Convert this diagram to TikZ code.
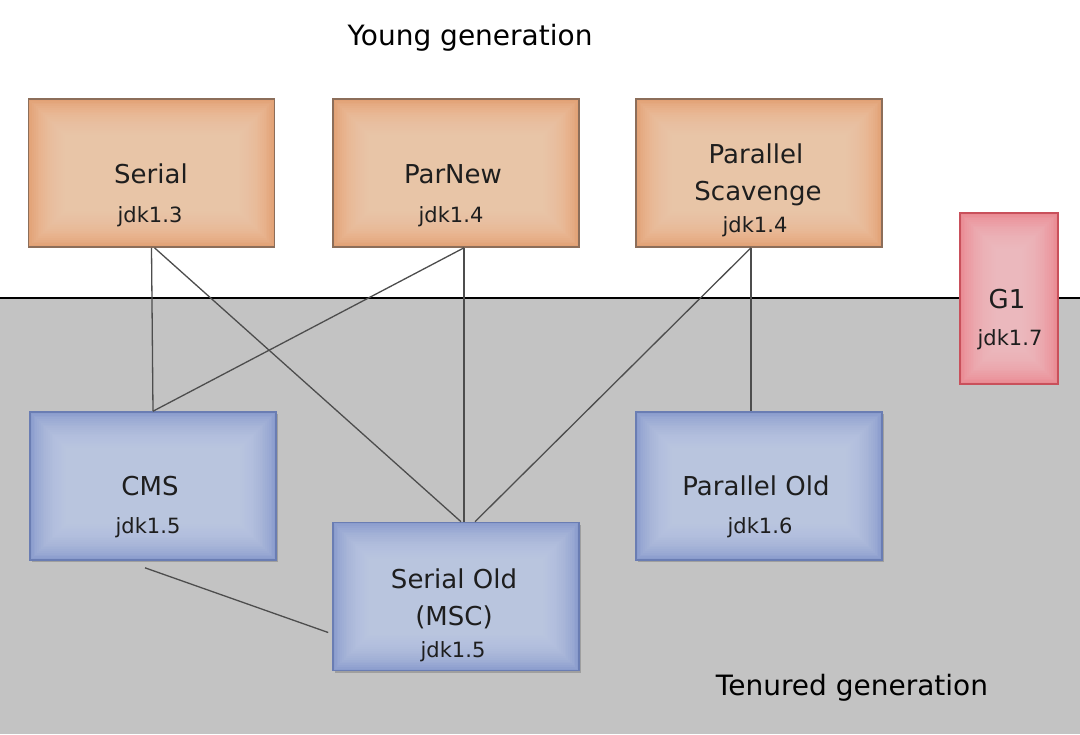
\documentclass[tikz,border=0pt]{standalone}
\usepackage{fontspec}
\setmainfont{DejaVu Sans}
\usetikzlibrary{calc,shadows}
\definecolor{orEdge}{HTML}{E2A175}
\definecolor{orMid}{HTML}{F3D1B6}
\definecolor{orBorder}{HTML}{8C6E5A}
\definecolor{blEdge}{HTML}{8A9CCD}
\definecolor{blMid}{HTML}{C8D2E9}
\definecolor{blBorder}{HTML}{6A7DB3}
\definecolor{pkEdge}{HTML}{E98A92}
\definecolor{pkMid}{HTML}{F6C6CA}
\definecolor{pkBorder}{HTML}{C9505B}
\definecolor{bggray}{HTML}{C3C3C3}
\definecolor{connc}{HTML}{4D4D4D}
\definecolor{txtc}{HTML}{1E1E1E}
\tikzset{
  glow/.style 2 args={fill=#1, path picture={
    \foreach \k in {1,...,20}{
      \fill[#2, opacity=0.09]
        ($(path picture bounding box.south west)+(\k*0.9pt,\k*0.9pt)$) rectangle
        ($(path picture bounding box.north east)-(\k*0.9pt,\k*0.9pt)$);
    }}},
  gcbox/.style={inner sep=0pt, line width=0.8pt, minimum width=123pt, minimum height=74pt},
  obox/.style={gcbox, draw=orBorder, glow={orEdge}{orMid}},
  bbox/.style={gcbox, draw=blBorder, glow={blEdge}{blMid},
    drop shadow={shadow xshift=1.2pt, shadow yshift=-1.2pt, opacity=0.18, fill=black}},
  pbox/.style={inner sep=0pt, line width=0.8pt, minimum width=49pt, minimum height=85.5pt,
    draw=pkBorder, glow={pkEdge}{pkMid}},
  nmtxt/.style={anchor=base, inner sep=0pt, text=txtc, font=\fontsize{13}{15}\selectfont},
  vertxt/.style={anchor=base, inner sep=0pt, text=txtc, font=\fontsize{10.5}{12}\selectfont},
  ttltxt/.style={anchor=base, inner sep=0pt, text=black, font=\fontsize{14}{16}\selectfont},
  conn/.style={draw=connc, line width=0.65pt},
  sepline/.style={draw=black, line width=0.9pt}
}
\begin{document}
\begin{tikzpicture}[x=0.5pt,y=-0.5pt]
\useasboundingbox (0,0) rectangle (1080,734);
\fill[white] (0,0) rectangle (1080,298);
\fill[bggray] (0,298) rectangle (1080,734);
\coordinate (sepL) at (0,298);
\coordinate (sepR) at (1080,298);
\draw[sepline] (sepL) -- (sepR);

% boxes
\node[obox] (serial) at (151.5,173) {};
\node[obox] (parnew) at (456,173) {};
\node[obox] (pscav) at (759,173) {};
\node[pbox] (g1) at (1009,298.5) {};
\node[bbox] (cms) at (153,486) {};
\node[bbox] (sold) at (456,596.5) {};
\node[bbox] (pold) at (759,486) {};

% connectors
\draw[conn] (serial.south) -- (cms.north);
\draw[conn] ($(serial.south)+(3,0)$) -- ($(sold.north)+(5,0)$);
\draw[conn] ($(parnew.south)+(8,0)$) -- (cms.north);
\draw[conn] ($(parnew.south)+(8,0)$) -- ($(sold.north)+(8,0)$);
\draw[conn] ($(pscav.south)+(-8,0)$) -- ($(sold.north)+(19,0)$);
\draw[conn] ($(pscav.south)+(-8,0)$) -- ($(pold.north)+(-8,0)$);
\draw[conn] ($(cms.south)+(-8,7)$) -- ($(sold.west)+(-4,36)$);

% texts
\node[nmtxt] (serialT) at (151,183) {Serial};
\node[vertxt] (serialV) at (150,222) {jdk1.3};
\node[nmtxt] (parnewT) at (453,183) {ParNew};
\node[vertxt] (parnewV) at (451,222) {jdk1.4};
\node[nmtxt] (pscavT1) at (756,163) {Parallel};
\node[nmtxt] (pscavT2) at (758,200) {Scavenge};
\node[vertxt] (pscavV) at (755,232) {jdk1.4};
\node[nmtxt] (g1T) at (1007,308) {G1};
\node[vertxt] (g1V) at (1010,345) {jdk1.7};
\node[nmtxt] (cmsT) at (150,495) {CMS};
\node[vertxt] (cmsV) at (148,533) {jdk1.5};
\node[nmtxt] (soldT1) at (454,588) {Serial Old};
\node[nmtxt] (soldT2) at (454,625) {(MSC)};
\node[vertxt] (soldV) at (453,657) {jdk1.5};
\node[nmtxt] (poldT) at (756,495) {Parallel Old};
\node[vertxt] (poldV) at (760,533) {jdk1.6};

\node[ttltxt] (young) at (470,45) {Young generation};
\node[ttltxt] (tenured) at (852,695) {Tenured generation};
\end{tikzpicture}
\end{document}
